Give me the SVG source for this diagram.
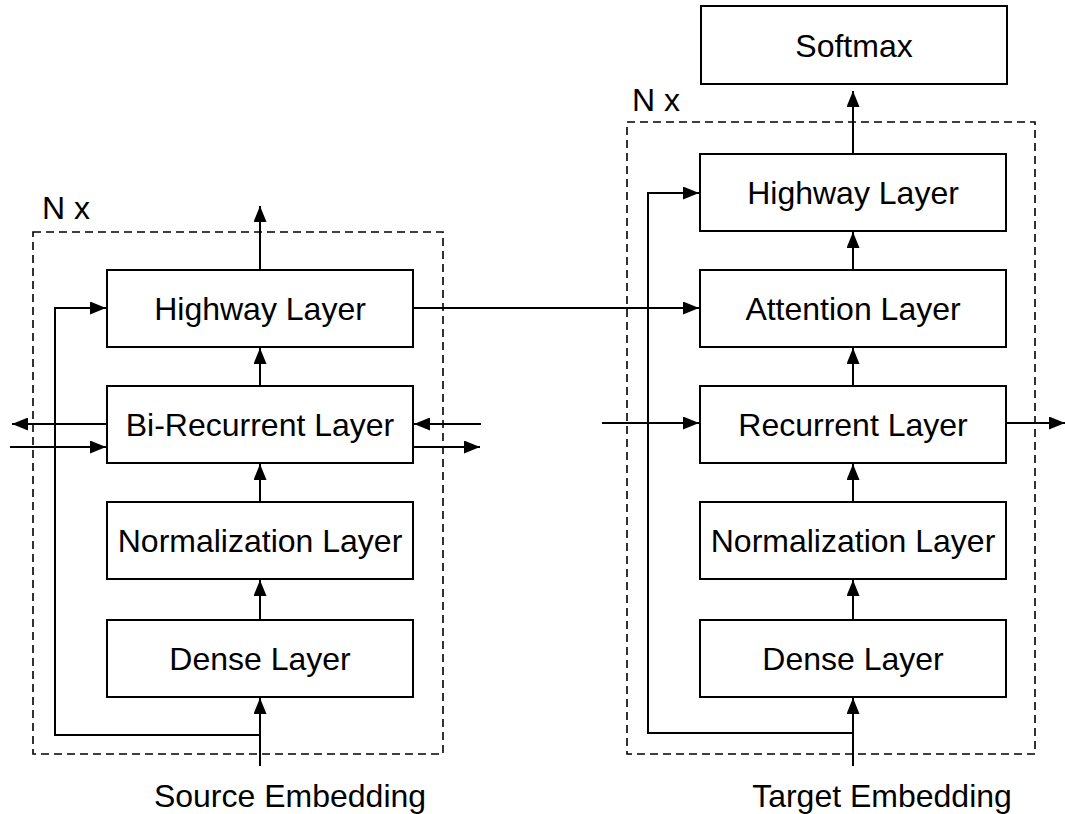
<svg xmlns="http://www.w3.org/2000/svg" width="1065" height="814" viewBox="0 0 1065 814">
<style>
.box{fill:#fff;stroke:#000;stroke-width:2}
.dash{fill:none;stroke:#000;stroke-width:1.6;stroke-dasharray:8 5}
.lbl{font-family:"Liberation Sans",Arial,sans-serif;font-size:32px;fill:#000;text-anchor:middle}
.edge{fill:none;stroke:#000;stroke-width:2;marker-end:url(#ah)}
</style>
<defs>
<marker id="ah" viewBox="0 0 16 13" refX="16" refY="6.5" markerWidth="16" markerHeight="13" markerUnits="userSpaceOnUse" orient="auto">
<path d="M0,0 L16,6.5 L0,13 Z" fill="#000"/>
</marker>
</defs>
<rect class="dash" x="33" y="232" width="410" height="522"/>
<text class="lbl" x="42" y="219" style="text-anchor:start">N x</text>
<rect class="dash" x="627" y="122" width="408" height="632"/>
<text class="lbl" x="632" y="111" style="text-anchor:start">N x</text>
<g id="connectors">
<path class="edge" d="M260,270 V206"/>
<path class="edge" d="M260,386 V348"/>
<path class="edge" d="M260,502 V464"/>
<path class="edge" d="M260,620 V580"/>
<path class="edge" d="M260,766 V698"/>
<path class="edge" d="M260,735 H55 V308 H106"/>
<path class="edge" d="M107,424 H12"/>
<path class="edge" d="M10,447 H106"/>
<path class="edge" d="M481,424 H414"/>
<path class="edge" d="M413,447 H480"/>
<path class="edge" d="M413,308 H699"/>
<path class="edge" d="M853,154 V91"/>
<path class="edge" d="M853,270 V232"/>
<path class="edge" d="M853,386 V348"/>
<path class="edge" d="M853,502 V464"/>
<path class="edge" d="M853,620 V580"/>
<path class="edge" d="M853,766 V698"/>
<path class="edge" d="M853,733 H648 V193 H699"/>
<path class="edge" d="M602,423 H699"/>
<path class="edge" d="M1006,423 H1065"/>
</g>
<g id="src-highway"><rect class="box" x="107" y="270" width="306" height="77"/><text class="lbl" x="260" y="320">Highway Layer</text></g>
<g id="src-birecurrent"><rect class="box" x="107" y="386" width="306" height="77"/><text class="lbl" x="260" y="436">Bi-Recurrent Layer</text></g>
<g id="src-norm"><rect class="box" x="107" y="502" width="306" height="77"/><text class="lbl" x="260" y="552">Normalization Layer</text></g>
<g id="src-dense"><rect class="box" x="107" y="620" width="306" height="77"/><text class="lbl" x="260" y="670">Dense Layer</text></g>
<g id="softmax"><rect class="box" x="701" y="6" width="306" height="78"/><text class="lbl" x="854" y="57">Softmax</text></g>
<g id="tgt-highway"><rect class="box" x="700" y="154" width="306" height="77"/><text class="lbl" x="853" y="204">Highway Layer</text></g>
<g id="tgt-attention"><rect class="box" x="700" y="270" width="306" height="77"/><text class="lbl" x="853" y="320">Attention Layer</text></g>
<g id="tgt-recurrent"><rect class="box" x="700" y="386" width="306" height="77"/><text class="lbl" x="853" y="436">Recurrent Layer</text></g>
<g id="tgt-norm"><rect class="box" x="700" y="502" width="306" height="77"/><text class="lbl" x="853" y="552">Normalization Layer</text></g>
<g id="tgt-dense"><rect class="box" x="700" y="620" width="306" height="77"/><text class="lbl" x="853" y="670">Dense Layer</text></g>
<text class="lbl" x="290" y="807">Source Embedding</text>
<text class="lbl" x="882" y="807">Target Embedding</text>
</svg>
